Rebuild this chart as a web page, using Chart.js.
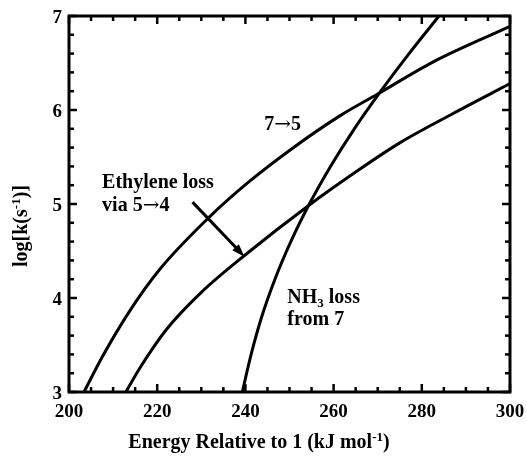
<!DOCTYPE html>
<html>
<head>
<meta charset="utf-8">
<script src="https://cdn.jsdelivr.net/npm/chart.js@4.4.1/dist/chart.umd.min.js"></script>
<style>
html, body { margin: 0; padding: 0; background: #fff; }
</style>
</head>
<body>
<canvas id="myChart" width="527" height="462"></canvas>
<script>
// curve 7->5
var energy75 = [203.4, 207.5, 213.6, 220.5, 231.8, 240.9, 250, 261.5, 270, 282.5, 300];
var logk75   = [3.0, 3.37, 3.85, 4.30, 4.86, 5.24, 5.57, 5.94, 6.17, 6.51, 6.89];
// ethylene loss via 5->4
var energyEth = [212.9, 216, 222, 230, 240, 254.5, 265, 275, 287, 300];
var logkEth   = [3.0, 3.25, 3.66, 4.06, 4.46, 4.99, 5.34, 5.65, 5.96, 6.28];
// NH3 loss from 7
var energyNH3 = [239.3, 241.3, 243.7, 246.7, 250.3, 254.5, 259.3, 264.7, 270.7, 277.1, 283.9];
var logkNH3   = [3.0, 3.4, 3.8, 4.2, 4.6, 5.0, 5.4, 5.8, 6.2, 6.6, 7.0];

var xTicks = [200, 220, 240, 260, 280, 300];
var yTicks = [3, 4, 5, 6, 7];

function pts(xs, ys) {
    return xs.map(function (x, i) { return { x: x, y: ys[i] }; });
}

var SERIF = '"Liberation Serif", "Times New Roman", serif';
var ARROW = '"DejaVu Serif", serif';

function line(ctx, x1, y1, x2, y2) {
    ctx.beginPath();
    ctx.moveTo(x1, y1);
    ctx.lineTo(x2, y2);
    ctx.stroke();
}

function partFont(p, size) {
    var s = p.small ? size * 0.65 : size;
    if (p.arrow) return 'normal ' + s + 'px ' + ARROW;
    return 'bold ' + s + 'px ' + SERIF;
}

// text with a small raised / lowered part, e.g. s-1 or NH3
function richText(ctx, parts, x, y, size) {
    var cx = x;
    parts.forEach(function (p) {
        ctx.font = partFont(p, size);
        ctx.fillText(p.t, cx, y + (p.dy || 0));
        cx += ctx.measureText(p.t).width;
    });
    return cx - x;
}

function richWidth(ctx, parts, size) {
    var w = 0;
    parts.forEach(function (p) {
        ctx.font = partFont(p, size);
        w += ctx.measureText(p.t).width;
    });
    return w;
}

var framePlugin = {
    id: 'frame',
    afterDraw: function (chart) {
        var ctx = chart.ctx;
        var a = chart.chartArea;
        var xs = chart.scales.x, ys = chart.scales.y;
        ctx.save();
        ctx.strokeStyle = '#000';
        ctx.fillStyle = '#000';
        ctx.lineCap = 'butt';

        // ticks on all four sides, pointing inward
        ctx.lineWidth = 2.5;
        for (var v = 200; v <= 300; v += 5) {
            var px = xs.getPixelForValue(v);
            var len = (v % 20 === 0) ? 8 : 5;
            line(ctx, px, a.bottom, px, a.bottom - len);
            line(ctx, px, a.top, px, a.top + len);
        }
        for (var k = 0; k <= 20; k++) {
            var yv = 3 + k * 0.2;
            var py = ys.getPixelForValue(yv);
            var l2 = (k % 5 === 0) ? 8 : 5;
            line(ctx, a.left, py, a.left + l2, py);
            line(ctx, a.right, py, a.right - l2, py);
        }

        // frame
        ctx.lineWidth = 3;
        ctx.strokeRect(a.left, a.top, a.right - a.left, a.bottom - a.top);

        // tick labels
        ctx.font = 'bold 19px ' + SERIF;
        ctx.textAlign = 'center';
        ctx.textBaseline = 'middle';
        xTicks.forEach(function (t) {
            ctx.fillText(String(t), xs.getPixelForValue(t), a.bottom + 20);
        });
        ctx.textAlign = 'right';
        yTicks.forEach(function (t) {
            ctx.fillText(String(t), a.left - 7, ys.getPixelForValue(t) + 2);
        });

        // x title
        ctx.textAlign = 'left';
        ctx.textBaseline = 'alphabetic';
        var xt = [{ t: 'Energy Relative to 1 (kJ mol' }, { t: '-1', small: true, dy: -7 }, { t: ')' }];
        var w = richWidth(ctx, xt, 20);
        richText(ctx, xt, 259 - w / 2, 448, 20);

        // y title
        ctx.save();
        ctx.translate(27, 226);
        ctx.rotate(-Math.PI / 2);
        var yt = [{ t: 'log[k(s' }, { t: '-1', small: true, dy: -7 }, { t: ')]' }];
        var wy = richWidth(ctx, yt, 20);
        richText(ctx, yt, -wy / 2, 0, 20);
        ctx.restore();

        // curve labels
        function at(xv, yv) { return [xs.getPixelForValue(xv), ys.getPixelForValue(yv)]; }
        var p = at(244.3, 5.79);
        richText(ctx, [{ t: '7' }, { t: '\u2192', arrow: true }, { t: '5' }], p[0], p[1], 20);
        p = at(207.5, 5.17);
        richText(ctx, [{ t: 'Ethylene loss' }], p[0], p[1], 20);
        p = at(207.5, 4.93);
        richText(ctx, [{ t: 'via 5' }, { t: '\u2192', arrow: true }, { t: '4' }], p[0], p[1], 20);
        p = at(249.5, 3.95);
        richText(ctx, [{ t: 'NH' }, { t: '3', small: true, dy: 4 }, { t: ' loss' }], p[0], p[1], 20);
        p = at(249.5, 3.71);
        richText(ctx, [{ t: 'from 7' }], p[0], p[1], 20);

        // arrow
        var s = at(228.0, 5.02), e = at(239.8, 4.44);
        var ang = Math.atan2(e[1] - s[1], e[0] - s[0]);
        ctx.lineWidth = 3;
        var hl = 13;
        line(ctx, s[0], s[1], e[0] - Math.cos(ang) * hl * 0.7, e[1] - Math.sin(ang) * hl * 0.7);
        ctx.beginPath();
        ctx.moveTo(e[0], e[1]);
        ctx.lineTo(e[0] - hl * Math.cos(ang) + 4.5 * Math.sin(ang), e[1] - hl * Math.sin(ang) - 4.5 * Math.cos(ang));
        ctx.lineTo(e[0] - hl * Math.cos(ang) - 4.5 * Math.sin(ang), e[1] - hl * Math.sin(ang) + 4.5 * Math.cos(ang));
        ctx.closePath();
        ctx.fill();

        ctx.restore();
    }
};

function curve(xs, ys) {
    return {
        data: pts(xs, ys),
        showLine: true,
        borderColor: '#000',
        borderWidth: 3,
        pointRadius: 0,
        cubicInterpolationMode: 'monotone',
        fill: false
    };
}

var ctx = document.getElementById('myChart').getContext('2d');
var myChart = new Chart(ctx, {
    type: 'scatter',
    data: {
        datasets: [
            curve(energy75, logk75),
            curve(energyEth, logkEth),
            curve(energyNH3, logkNH3)
        ]
    },
    options: {
        responsive: false,
        animation: false,
        devicePixelRatio: 1,
        layout: { padding: { left: 69, right: 17, top: 16, bottom: 70 } },
        scales: {
            x: { type: 'linear', min: 200, max: 300, display: false },
            y: { type: 'linear', min: 3, max: 7, display: false }
        },
        plugins: {
            legend: { display: false },
            tooltip: { enabled: false }
        }
    },
    plugins: [framePlugin]
});
</script>
</body>
</html>
